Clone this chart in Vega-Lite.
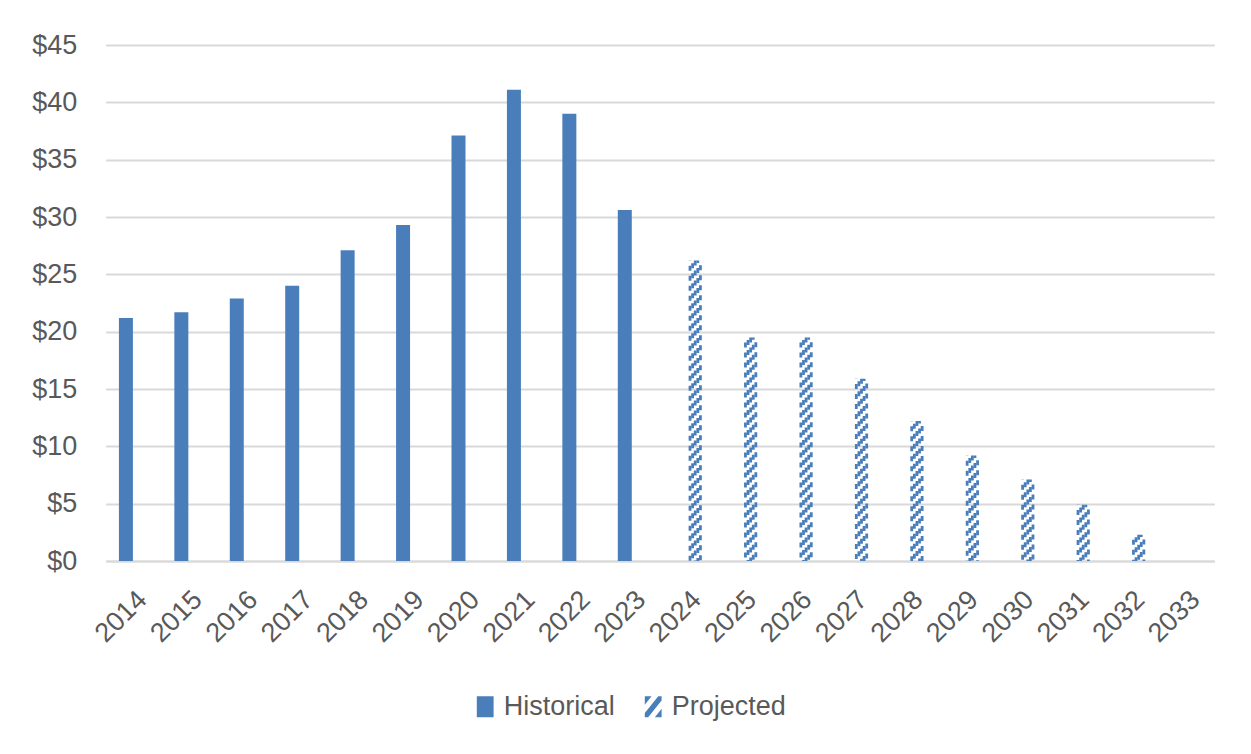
{
  "$schema": "https://vega.github.io/schema/vega-lite/v6.json",
  "width": 1108.6,
  "height": 516,
  "autosize": {"type": "none"},
  "padding": {"left": 105.7, "top": 45, "right": 36.7, "bottom": 193},
  "background": "white",
  "config": {
    "view": {"stroke": null},
    "font": "Liberation Sans"
  },
  "data": {
    "values": [
      {"year": "2014", "value": 21.2, "series": "Historical"},
      {"year": "2015", "value": 21.7, "series": "Historical"},
      {"year": "2016", "value": 22.9, "series": "Historical"},
      {"year": "2017", "value": 24.0, "series": "Historical"},
      {"year": "2018", "value": 27.1, "series": "Historical"},
      {"year": "2019", "value": 29.3, "series": "Historical"},
      {"year": "2020", "value": 37.1, "series": "Historical"},
      {"year": "2021", "value": 41.1, "series": "Historical"},
      {"year": "2022", "value": 39.0, "series": "Historical"},
      {"year": "2023", "value": 30.6, "series": "Historical"},
      {"year": "2024", "value": 26.2, "series": "Projected"},
      {"year": "2025", "value": 19.5, "series": "Projected"},
      {"year": "2026", "value": 19.5, "series": "Projected"},
      {"year": "2027", "value": 15.9, "series": "Projected"},
      {"year": "2028", "value": 12.2, "series": "Projected"},
      {"year": "2029", "value": 9.2, "series": "Projected"},
      {"year": "2030", "value": 7.1, "series": "Projected"},
      {"year": "2031", "value": 4.9, "series": "Projected"},
      {"year": "2032", "value": 2.3, "series": "Projected"},
      {"year": "2033", "value": null, "series": "Projected"}
    ]
  },
  "encoding": {
    "x": {
      "field": "year",
      "type": "ordinal",
      "scale": {
        "domain": ["2014", "2015", "2016", "2017", "2018", "2019", "2020", "2021", "2022", "2023", "2024", "2025", "2026", "2027", "2028", "2029", "2030", "2031", "2032", "2033"],
        "paddingInner": 0.46,
        "paddingOuter": 0.23
      },
      "axis": {
        "title": null,
        "labelAngle": -45,
        "labelAlign": "right",
        "labelBaseline": "top",
        "labelPadding": 25,
        "labelFontSize": 27,
        "labelColor": "#595959",
        "ticks": false,
        "tickSize": 0,
        "domainColor": "#d9d9d9",
        "domainWidth": 2,
        "grid": false
      }
    },
    "y": {
      "field": "value",
      "type": "quantitative",
      "scale": {"domain": [0, 45], "nice": false},
      "axis": {
        "title": null,
        "values": [0, 5, 10, 15, 20, 25, 30, 35, 40, 45],
        "format": "$.0f",
        "labelFontSize": 27,
        "labelColor": "#595959",
        "labelPadding": 29,
        "ticks": false,
        "tickSize": 0,
        "domain": false,
        "grid": true,
        "gridColor": "#d9d9d9",
        "gridWidth": 2
      }
    }
  },
  "layer": [
    {
      "transform": [{"filter": "datum.series === 'Historical'"}],
      "mark": {"type": "bar", "width": 14, "xOffset": -7.5},
      "encoding": {
        "color": {
          "field": "series",
          "type": "nominal",
          "scale": {"domain": ["Historical", "Projected"], "range": ["#4a7ebb", "#4a7ebb"]},
          "legend": {
            "orient": "none",
            "legendX": 366,
            "legendY": 648,
            "direction": "horizontal",
            "title": null,
            "labelFontSize": 27,
            "labelColor": "#595959",
            "labelOffset": 5,
            "columnPadding": 24,
            "symbolSize": 441,
            "symbolStrokeWidth": 0,
            "encode": {
              "symbols": {
                "update": {
                  "shape": {"signal": "datum.value === 'Projected' ? 'M-0.8,-1L-0.16,-1L-0.8,-0.2ZM-0.8,0.6L0.48,-1L0.8,-1L0.8,-0.6L-0.48,1L-0.8,1ZM0.8,0.2L0.8,1L0.16,1Z' : 'M-0.8,-1H0.8V1H-0.8Z'"}
                }
              }
            }
          }
        }
      }
    },
    {
      "transform": [{"filter": "datum.series === 'Projected' && isValid(datum.value)"}],
      "mark": {"type": "rule", "color": "#4a7ebb", "xOffset": 2.3, "strokeWidth": 2.8, "strokeDash": [5, 5], "strokeDashOffset": 4.8},
      "encoding": {"y2": {"datum": 0}}
    },
    {
      "transform": [{"filter": "datum.series === 'Projected' && isValid(datum.value)"}],
      "mark": {"type": "rule", "color": "#4a7ebb", "xOffset": 4.9, "strokeWidth": 2.8, "strokeDash": [5, 5], "strokeDashOffset": 7.4},
      "encoding": {"y2": {"datum": 0}}
    },
    {
      "transform": [{"filter": "datum.series === 'Projected' && isValid(datum.value)"}],
      "mark": {"type": "rule", "color": "#4a7ebb", "xOffset": 7.5, "strokeWidth": 2.8, "strokeDash": [5, 5], "strokeDashOffset": 0},
      "encoding": {"y2": {"datum": 0}}
    },
    {
      "transform": [{"filter": "datum.series === 'Projected' && isValid(datum.value)"}],
      "mark": {"type": "rule", "color": "#4a7ebb", "xOffset": 10.1, "strokeWidth": 2.8, "strokeDash": [5, 5], "strokeDashOffset": 2.6},
      "encoding": {"y2": {"datum": 0}}
    },
    {
      "transform": [{"filter": "datum.series === 'Projected' && isValid(datum.value)"}],
      "mark": {"type": "rule", "color": "#4a7ebb", "xOffset": 12.7, "strokeWidth": 2.8, "strokeDash": [5, 5], "strokeDashOffset": 5.2},
      "encoding": {"y2": {"datum": 0}}
    }
  ]
}
